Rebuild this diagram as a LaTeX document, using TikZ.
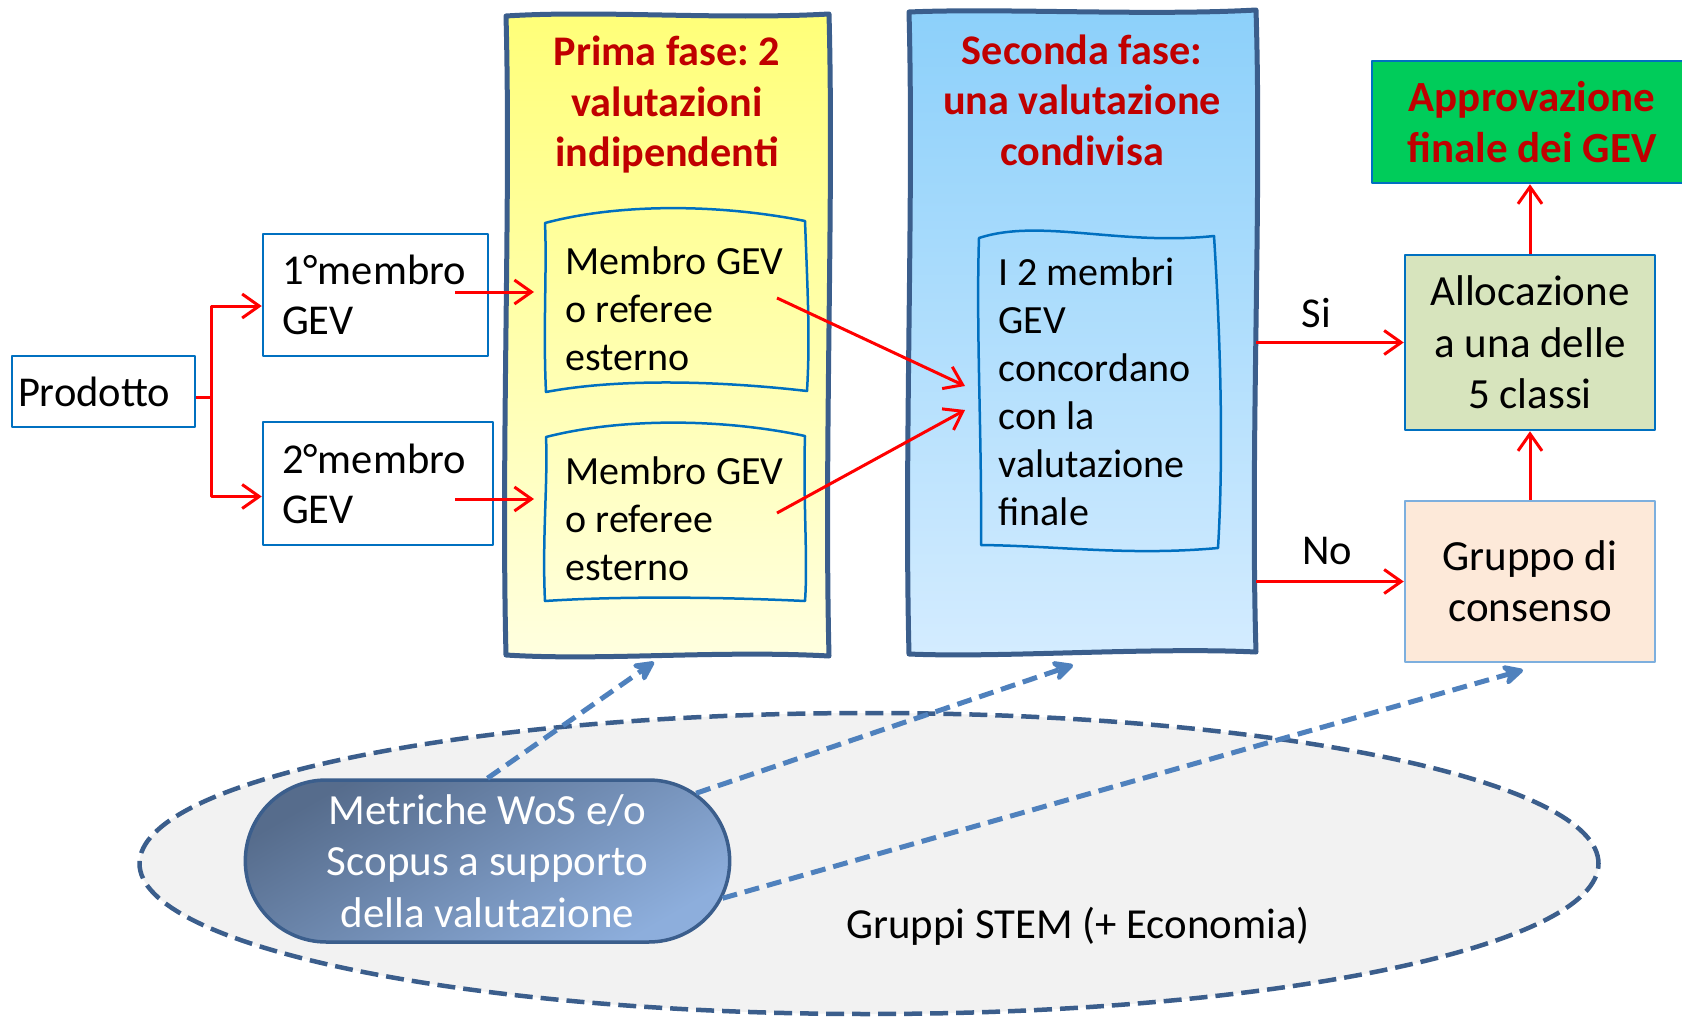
\documentclass[tikz,border=0pt]{standalone}
\usepackage{fontspec}
\setmainfont{Carlito}
\frenchspacing
\usetikzlibrary{arrows.meta,shapes.misc}
\definecolor{boxblue}{RGB}{0,112,192}
\definecolor{edgeblue}{RGB}{59,94,140}
\definecolor{dashblue}{RGB}{79,129,189}
\definecolor{titlered}{RGB}{192,0,0}
\definecolor{allocgreen}{RGB}{215,228,189}
\definecolor{peach}{RGB}{253,233,217}
\definecolor{peachedge}{RGB}{125,175,222}
\definecolor{approvgreen}{RGB}{0,204,90}
\definecolor{ellgrey}{RGB}{242,242,242}
\begin{document}
\begin{tikzpicture}[x=1pt,y=-1pt,line join=round,>={Straight Barb[length=17pt,width=24pt]},
	txt/.style={font=\fontsize{40}{48}\selectfont},
	bigtxt/.style={font=\fontsize{42.5}{50}\selectfont},
	ttl/.style={font=\fontsize{42.2}{50.5}\selectfont\bfseries,text=titlered,align=flush center},
	blk/.style={draw=boxblue,line width=2.5pt,fill=white,bigtxt,align=left,inner ysep=0pt},
	redline/.style={draw=red,line width=3pt},
	panel/.style={draw=edgeblue,line width=5pt},
	wavy/.style={draw=boxblue,line width=2.5pt},
	dasharrow/.style={draw=dashblue,line width=5pt,dash pattern=on 15pt off 8pt,-{Stealth[length=26pt,width=26pt,round]}}]
	\fill[white] (0,0) rectangle (1682,1017);
	\useasboundingbox (0,0) rectangle (1682,1017);
	% fasi
	\draw[panel,top color={rgb,255:red,255;green,255;blue,120},bottom color={rgb,255:red,255;green,255;blue,224}]
		(506,16) .. controls (600,10) and (720,20) .. (829,14) .. controls (834,200) and (824,450) .. (829,656)
		.. controls (720,650) and (600,661) .. (506,655) .. controls (501,450) and (511,200) .. (506,16) -- cycle;
	\draw[panel,top color={rgb,255:red,140;green,208;blue,250},bottom color={rgb,255:red,212;green,236;blue,255}]
		(909,12) .. controls (1000,8) and (1150,16) .. (1256,10) .. controls (1262,200) and (1250,450) .. (1256,652)
		.. controls (1150,647) and (1000,658) .. (909,654) .. controls (904,450) and (914,200) .. (909,12) -- cycle;
	\draw[wavy] (545,223) .. controls (620,203) and (720,204) .. (805,221) .. controls (808,300) and (810,340) .. (807,391)
		.. controls (720,381) and (620,378) .. (546,392) .. controls (543,330) and (547,270) .. (545,223) -- cycle;
	\draw[wavy] (546,437) .. controls (620,418) and (720,418) .. (805,436) .. controls (803,500) and (808,560) .. (805,601)
		.. controls (720,597) and (620,596) .. (545,601) .. controls (542,540) and (548,480) .. (546,437) -- cycle;
	\draw[wavy] (979,238) .. controls (1040,218) and (1120,246) .. (1214,236) .. controls (1220,330) and (1224,450) .. (1218,548)
		.. controls (1130,556) and (1060,546) .. (981,545) .. controls (982,440) and (976,330) .. (979,238) -- cycle;
	\node[ttl] (fase1) at (667,105) {Prima fase: 2\\valutazioni\\indipendenti};
	\node[ttl] (fase2) at (1082,100) {Seconda fase:\\una valutazione\\condivisa};
	\node[txt,align=left,anchor=west] (ref1) at (562,309) {Membro GEV\\o referee\\esterno};
	\node[txt,align=left,anchor=west] (ref2) at (562,519) {Membro GEV\\o referee\\esterno};
	\node[txt,align=left,anchor=west] (concord) at (995,392) {I 2 membri\\GEV\\concordano\\con la\\valutazione\\finale};
	% caselle
	\node[blk,minimum width=183pt,minimum height=71pt,text width=171pt,inner xsep=6pt] (prod) at (103.5,391.5) {Prodotto};
	\node[blk,minimum width=225pt,minimum height=122pt,text width=187pt,inner xsep=19pt] (memb1) at (375.5,295) {1°membro\\GEV};
	\node[blk,minimum width=230pt,minimum height=123pt,text width=192pt,inner xsep=19pt] (memb2) at (378,483.5) {2°membro\\GEV};
	\node[blk,fill=allocgreen,align=flush center,minimum width=250pt,minimum height=175pt,text width=230pt,font=\fontsize{43}{51.5}\selectfont] (alloc) at (1530,342.5) {Allocazione\\a una delle\\5 classi};
	\node[blk,draw=peachedge,fill=peach,align=flush center,minimum width=250pt,minimum height=161pt,text width=230pt,font=\fontsize{43}{51}\selectfont] (cons) at (1530,581.5) {Gruppo di\\consenso};
	\node[blk,fill=approvgreen,ttl,minimum width=320pt,minimum height=122pt,text width=300pt,font=\fontsize{43}{51}\selectfont\bfseries] (appr) at (1532,122) {Approvazione\\finale dei GEV};
	% frecce rosse
	\coordinate (fork) at (211,397);
	\coordinate (m1out) at (455,292); \coordinate (r1in) at (534,292);
	\coordinate (m2out) at (455,499); \coordinate (r2in) at (534,499);
	\coordinate (r1out) at (777,298); \coordinate (r2out) at (777,513);
	\coordinate (c1in) at (965,386); \coordinate (c2in) at (965,410);
	\coordinate (siout) at (1256,342.5); \coordinate (noout) at (1256,581.5);
	\draw[redline] (prod.east |- fork) -- (fork);
	\draw[redline,->] (fork) |- ([yshift=-11pt]memb1.west);
	\draw[redline,->] (fork) |- ([yshift=-13pt]memb2.west);
	\draw[redline,->] (m1out) -- (r1in);
	\draw[redline,->] (m2out) -- (r2in);
	\draw[redline,->] (r1out) -- (c1in);
	\draw[redline,->] (r2out) -- (c2in);
	\draw[redline,->] (siout) -- (alloc.west) node[pos=.41,above=9.5pt,bigtxt]{Si};
	\draw[redline,->] (noout) -- (cons.west) node[pos=.48,above=11.5pt,bigtxt]{No};
	\draw[redline,->] (cons.north) -- (alloc.south);
	\draw[redline,->] (alloc.north) -- (alloc.north |- appr.south);
	% metriche
	\draw[edgeblue,line width=4.5pt,dash pattern=on 18pt off 8pt,fill=ellgrey] (869,863.5) ellipse [x radius=729.5pt,y radius=150.5pt];
	\node[font=\fontsize{42.8}{50}\selectfont] (stem) at (1078,926) {Gruppi STEM (+ Economia)};
	\node[rounded rectangle,draw=edgeblue,line width=3.5pt,minimum width=491pt,minimum height=162pt,
		top color={rgb,255:red,86;green,108;blue,140},bottom color={rgb,255:red,141;green,174;blue,220},shading angle=30,
		text=white,align=center,font=\fontsize{43}{51.5}\selectfont] (metr) at (487.5,861) {Metriche WoS e/o\\Scopus a supporto\\della valutazione};
	\coordinate (p1in) at (654,662); \coordinate (p2in) at (1073,665); \coordinate (gin) at (1523,670);
	\draw[dasharrow] (metr.north) -- (p1in);
	\draw[dasharrow] (metr.18) -- (p2in);
	\draw[dasharrow] (metr.-9) -- (gin);
\end{tikzpicture}
\end{document}
